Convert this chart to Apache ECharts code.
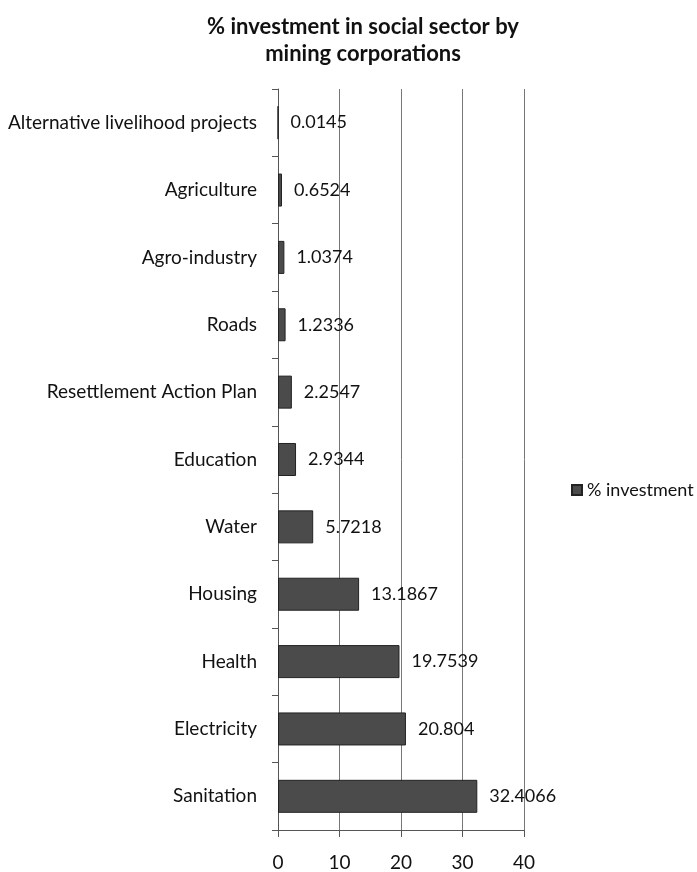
<!DOCTYPE html>
<html><head><meta charset="utf-8">
<script src="https://cdn.jsdelivr.net/npm/echarts@6/dist/echarts.min.js"></script>
<style>html,body{margin:0;padding:0;background:#fff}#c{width:697px;height:872px}</style>
</head><body><div id="c"></div>
<script>
var categories = ["Sanitation","Electricity","Health","Housing","Water","Education","Resettlement Action Plan","Roads","Agro-industry","Agriculture","Alternative livelihood projects"];
var values = [32.4066,20.804,19.7539,13.1867,5.7218,2.9344,2.2547,1.2336,1.0374,0.6524,0.0145];
var seriesName = "% investment";
var titleText = "% investment in social sector by\nmining corporations";
var FONT = "Lato";
var chart = echarts.init(document.getElementById('c'), null, {renderer:'canvas'});
chart.setOption({
  animation:false,
  backgroundColor:'#fff',
  title:{text:titleText,left:358,textAlign:'center',top:8,
    textStyle:{fontFamily:FONT,fontSize:22,fontWeight:'bold',color:'#111',lineHeight:27}},
  legend:{data:[seriesName],left:566,top:476,itemWidth:10,itemHeight:10,itemGap:4,
    icon:'rect',textStyle:{fontFamily:FONT,fontSize:18,color:'#111'}},
  grid:{left:278,right:173,top:89,bottom:42,containLabel:false},
  xAxis:{type:'value',min:0,max:40,interval:10,
    axisLine:{show:true,lineStyle:{color:'#555',width:1}},
    axisTick:{show:true,length:7,lineStyle:{color:'#555'}},
    axisLabel:{fontFamily:FONT,fontSize:19,color:'#111',margin:23},
    splitLine:{show:true,lineStyle:{color:'#777',width:1}}},
  yAxis:{type:'category',data:categories,
    axisLine:{show:true,lineStyle:{color:'#555',width:1}},
    axisTick:{show:true,length:6,lineStyle:{color:'#555'}},
    axisLabel:{fontFamily:FONT,fontSize:19,color:'#111',margin:21}},
  series:[{name:seriesName,type:'bar',data:values,barCategoryGap:'51%',
    itemStyle:{color:'#4b4b4b',borderColor:'#222',borderWidth:1},
    label:{show:true,position:'right',distance:12,fontFamily:FONT,fontSize:18,color:'#111',
      formatter:function(p){return String(p.value);}}}]
});
</script></body></html>
